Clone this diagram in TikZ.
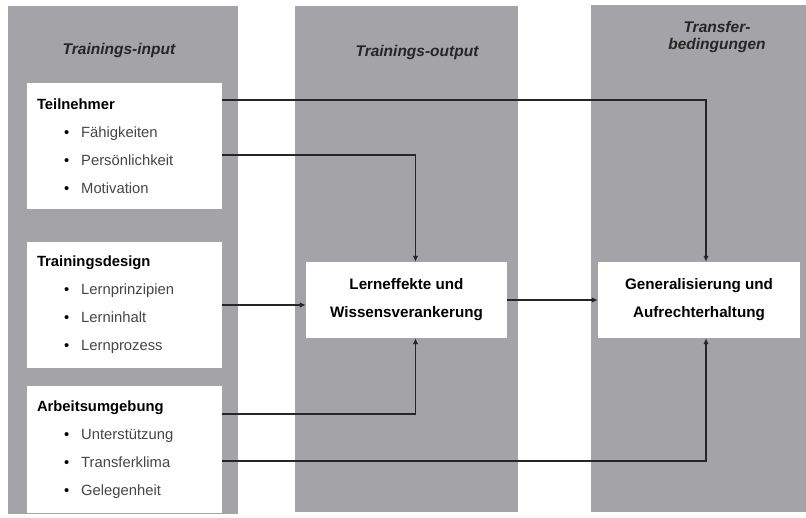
\documentclass[tikz,border=0pt]{standalone}
\usepackage{fontspec}
\setmainfont{Liberation Sans}
\usetikzlibrary{calc,positioning,arrows.meta}
\definecolor{colgray}{RGB}{163,163,168}
\definecolor{itemgray}{RGB}{70,70,70}
\newcommand{\itm}[1]{\hspace*{27pt}\textbullet\hspace{12pt}{\color{itemgray}#1}}
\tikzset{
  col/.style={fill=colgray,draw=none,inner sep=0pt},
  head/.style={font=\fontsize{15.5}{17}\selectfont\bfseries\itshape,text=black!85,align=center},
  inbox/.style={fill=white,draw=none,inner xsep=10pt,inner ysep=0pt,minimum width=195pt,
                minimum height=126pt,text width=175pt,align=left,font=\fontsize{14.8}{28}\selectfont},
  outbox/.style={fill=white,draw=none,inner sep=0pt,minimum height=76pt,align=center,
                 font=\fontsize{15.2}{28}\selectfont\bfseries},
  arr/.style={-{Latex[length=6pt,width=5.5pt]},line width=1.8pt,black!85}
}

\begin{document}
\begin{tikzpicture}[x=1pt,y=1pt]
  \useasboundingbox (0,0) rectangle (806,517);
  % columns
  \node[col,minimum width=230pt,minimum height=508pt] (cin)  at (123,257)   {};
  \node[col,minimum width=223pt,minimum height=506pt] (cout) at (406.5,258) {};
  \node[col,minimum width=215pt,minimum height=507pt] (ctr)  at (698.5,258.5) {};
  \node[head] (hin)  at (119,467) {Trainings-input};
  \node[head] (hout) at (417,465) {Trainings-output};
  \node[head] (htr)  at (717,480) {Transfer-\\bedingungen};
  % column 1 : input
  \node[inbox] (tn) at (124.5,370.5) {\textbf{Teilnehmer}\\\itm{Fähigkeiten}\\\itm{Persönlichkeit}\\\itm{Motivation}};
  \node[inbox] (td) at (124.5,212)   {\textbf{Trainingsdesign}\\\itm{Lernprinzipien}\\\itm{Lerninhalt}\\\itm{Lernprozess}};
  \node[inbox] (au) at (124.5,67.5)  {\textbf{Arbeitsumgebung}\\\itm{Unterstützung}\\\itm{Transferklima}\\\itm{Gelegenheit}};
  % columns 2 and 3
  \node[outbox,minimum width=201pt] (lern) at (406.5,217) {Lerneffekte und\\Wissensverankerung};
  \node[outbox,minimum width=202pt] (gen)  at (699,217)   {Generalisierung und\\Aufrechterhaltung};
  % connectors
  \draw[arr] ([yshift=-17pt]tn.north east) -| ([xshift=7pt]gen.north);
  \draw[arr] ([yshift=-72pt]tn.north east) -| ([xshift=9pt]lern.north);
  \draw[arr] (td.east) -- (td.east -| lern.west);
  \draw[arr] ([yshift=-28pt]au.north east) -| ([xshift=9pt]lern.south);
  \draw[arr] ([yshift=-75pt]au.north east) -| ([xshift=7pt]gen.south);
  \draw[arr] (lern.east) -- (gen.west);
\end{tikzpicture}
\end{document}
